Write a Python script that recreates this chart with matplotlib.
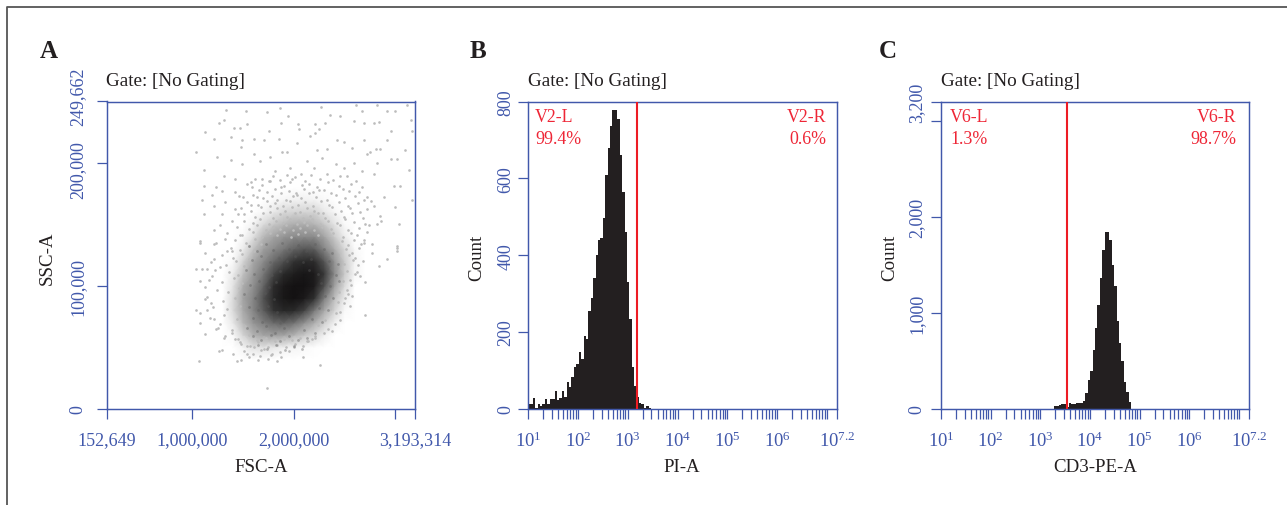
import numpy as np
import matplotlib
matplotlib.use("Agg")
import matplotlib.pyplot as plt
from matplotlib.colors import LinearSegmentedColormap
from matplotlib.lines import Line2D
from matplotlib.ticker import NullFormatter
from matplotlib.transforms import ScaledTranslation

plt.rcParams['font.family'] = ['Liberation Serif', 'DejaVu Serif']
plt.rcParams['mathtext.fontset'] = 'custom'
plt.rcParams['mathtext.rm'] = 'Liberation Serif'
plt.rcParams['mathtext.default'] = 'rm'

W, H = 1287, 506
BLUE = '#4158ab'
RED = '#ee2636'
TXT = '#231f20'

# ---------- Panel A: density (FSC, SSC in thousands) ----------
fsc_grid = [1200, 1300, 1400, 1500, 1600, 1700, 1800, 1900, 2000, 2100, 2200, 2300, 2400, 2500, 2600, 2700, 2800]
ssc_grid = [30, 40, 50, 60, 70, 80, 90, 100, 110, 120, 130, 140, 150, 160, 170, 180, 190]
density = [
    [0, 0, 0, 0, 0, 0, 0, 0, 0, 0, 0, 0, 0, 0, 0, 0, 0],
    [0, 0, 0, 0, 0, 0, 0, 0, 0, 0, 0, 0, 0, 0, 0, 0, 0],
    [0, 0, 0, .05, .12, .12, .10, .06, .05, .03, .01, 0, 0, 0, 0, 0, 0],
    [0, 0, .03, .18, .32, .38, .40, .38, .32, .24, .16, .06, 0, 0, 0, 0, 0],
    [0, 0, .10, .30, .44, .52, .58, .60, .56, .46, .34, .20, .06, 0, 0, 0, 0],
    [0, 0, .16, .36, .50, .62, .74, .82, .80, .70, .54, .36, .18, .03, 0, 0, 0],
    [0, 0, .16, .38, .50, .65, .82, .95, 1.0, .94, .76, .52, .28, .08, 0, 0, 0],
    [0, 0, .12, .34, .46, .60, .78, .94, 1.0, 1.0, .92, .66, .40, .16, 0, 0, 0],
    [0, 0, .08, .26, .42, .54, .68, .80, .90, .96, .92, .72, .48, .22, .04, 0, 0],
    [0, 0, .03, .18, .36, .48, .58, .66, .74, .80, .78, .64, .44, .22, .05, 0, 0],
    [0, 0, 0, .08, .26, .40, .48, .54, .60, .64, .62, .50, .34, .16, .03, 0, 0],
    [0, 0, 0, .03, .14, .30, .38, .44, .48, .48, .48, .38, .22, .08, 0, 0, 0],
    [0, 0, 0, 0, .05, .16, .24, .30, .34, .34, .32, .24, .12, .03, 0, 0, 0],
    [0, 0, 0, 0, 0, .04, .10, .16, .18, .18, .18, .10, .04, 0, 0, 0, 0],
    [0, 0, 0, 0, 0, 0, .02, .04, .05, .06, .05, .03, 0, 0, 0, 0, 0],
    [0, 0, 0, 0, 0, 0, 0, 0, 0, 0, 0, 0, 0, 0, 0, 0, 0],
    [0, 0, 0, 0, 0, 0, 0, 0, 0, 0, 0, 0, 0, 0, 0, 0, 0],
]

# Isolated events outside the dense core, read one by one (thousands)
event_fsc = [
    1332, 1523, 1730, 1861, 2262, 1943, 2613, 2672, 2820, 2919, 3001, 3116, 3149, 1309, 1260, 1128, 1473, 1414, 1539, 1753,
    1868, 2038, 2048, 2206, 2311, 2360, 2459, 2590, 2689, 2787, 2837, 2952, 3165, 1211, 1375, 1490, 1480, 1605, 1703, 1851,
    2032, 2212, 2245, 2163, 2426, 2492, 2574, 2689, 2919, 2853, 2804, 2754, 1030, 1243, 1375, 1490, 1605, 1670, 1769, 1884,
    1933, 1966, 2130, 2229, 2278, 2327, 2410, 2492, 2590, 2722, 2820, 2952, 3017, 3099, 1112, 1309, 1424, 1687, 1818, 1982,
    2065, 2196, 2327, 2459, 2672, 2787, 3132, 1112, 1227, 1293, 1424, 1572, 1588, 1769, 1868, 1096, 1194, 1325, 1457, 1638,
    1835, 2032, 2295, 2722, 2886, 2984, 3050, 3165, 1112, 1211, 1293, 1424, 1572, 1769, 2787, 2853, 3001, 2820, 3034, 1211,
    1276, 1391, 1506, 1079, 1211, 1325, 1473, 2689, 3017, 2771, 3017, 3017, 2919, 2837, 2705, 2705, 1030, 1096, 1145, 1079,
    1128, 1194, 1276, 1211, 1128, 1079, 1227, 1342, 1391, 1178, 1128, 1030, 1079, 1145, 1079, 1211, 1276, 1128, 1227, 1309,
    1391, 1260, 1293, 1401, 1063, 1440, 1539, 1670, 1874, 2088, 2255, 1730, 2212, 2295, 2377, 2459, 2574, 2557, 2623, 2656,
    2771, 2689, 1424, 1473, 1539, 1605, 1703, 1785, 1999, 2130, 2180, 2410, 2492, 2525, 2557,
]
event_ssc = [
    243, 242, 241, 244, 245, 238, 247, 242, 247, 242, 242, 247, 235, 235, 232, 225, 228, 228, 231, 226,
    232, 231, 227, 231, 232, 239, 238, 234, 232, 232, 233, 226, 226, 219, 221, 218, 213, 219, 218, 219,
    216, 224, 227, 222, 218, 217, 212, 218, 218, 211, 211, 209, 209, 205, 202, 199, 207, 201, 205, 209,
    209, 196, 201, 210, 204, 211, 199, 196, 200, 207, 200, 203, 203, 210, 194, 189, 187, 187, 193, 187,
    191, 196, 191, 189, 193, 191, 194, 181, 180, 177, 176, 184, 180, 185, 180, 170, 174, 168, 173, 172,
    170, 174, 178, 172, 172, 181, 181, 170, 158, 165, 158, 162, 166, 165, 165, 157, 164, 150, 150, 145,
    149, 153, 158, 136, 134, 138, 141, 137, 132, 134, 131, 128, 122, 116, 103, 76, 114, 114, 114, 104,
    99, 108, 115, 122, 127, 135, 135, 128, 128, 86, 89, 80, 78, 80, 70, 73, 69, 61, 65, 58,
    62, 47, 48, 45, 39, 39, 45, 43, 42, 42, 36, 17, 59, 62, 63, 72, 92, 84, 111, 108,
    127, 135, 57, 54, 51, 50, 49, 45, 50, 55, 57, 78, 86, 97, 105,
]

# Events in the scattered ring round the core (thousands)
ring_fsc = [
    1620, 1790, 1860, 1930, 2010, 2110, 2170, 2260, 2390, 2520, 2610, 1540, 1690, 1750, 1900, 1960, 2080, 2150, 2230, 2340,
    2440, 2560, 2670, 1660, 1730, 1810, 1950, 2020, 2100, 2190, 2250, 2370, 2480, 2540, 2640, 1500, 1600, 1700, 1780, 1870,
    1920, 1990, 2070, 2150, 2220, 2330, 2410, 2500, 2600, 2690, 1540, 1650, 1730, 1810, 1890, 1960, 2040, 2110, 2190, 2270,
    2350, 2440, 2530, 2630, 2760, 1480, 1580, 1680, 1760, 1830, 1910, 1980, 2060, 2130, 2200, 2290, 2380, 2460, 2550, 2650,
    2720, 1450, 1620, 1700, 1790, 1860, 1930, 2010, 2090, 2160, 2240, 2310, 2400, 2490, 2570, 2680, 1510, 1600, 1670, 1750,
    1820, 1890, 1960, 2030, 2100, 2180, 2260, 2340, 2420, 2500, 2590, 2700, 2860, 1440, 1560, 1640, 1720, 1790, 1860, 1920,
    1990, 2060, 2130, 2200, 2280, 2370, 2450, 2530, 2640, 2740, 1340, 1490, 1600, 1690, 1760, 1830, 1900, 1970, 2040, 2110,
    2240, 2390, 2480, 2560, 2620, 2720, 1420, 1530, 1620, 1680, 2470, 2530, 2590, 2660, 1380, 1470, 1560, 1610, 2510, 2570,
    2640, 1290, 1400, 1490, 1560, 2540, 2600, 2680, 1180, 1330, 1430, 1510, 2490, 2580, 2630, 1220, 1360, 1450, 2520, 2600,
    1160, 1290, 1410, 1490, 2480, 2560, 1240, 1350, 1460, 2440, 2530, 1140, 1300, 1420, 2430, 2500, 1200, 1340, 1470, 2360,
    2450, 1170, 1310, 1440, 2310, 2400, 1250, 1390, 1520, 2240, 2340, 1320, 1450, 1560, 1640, 1720, 1810, 1900, 1980, 2060,
    2140, 2210, 1480, 1570, 1650, 1740, 1830, 1920, 2010, 2090, 1510, 1600, 1680, 1770, 1860, 1950, 1480, 1560, 1650, 1740,
    1830,
]
ring_ssc = [
    187, 189, 186, 190, 188, 185, 190, 187, 186, 189, 185, 183, 182, 185, 181, 184, 182, 183, 180, 184,
    181, 183, 180, 178, 176, 179, 177, 175, 179, 176, 178, 175, 179, 177, 176, 172, 174, 171, 173, 175,
    170, 173, 171, 175, 172, 170, 174, 171, 173, 170, 168, 166, 169, 167, 165, 169, 166, 168, 165, 169,
    166, 168, 165, 167, 169, 163, 161, 164, 160, 163, 161, 164, 160, 163, 161, 159, 164, 161, 163, 160,
    162, 158, 156, 159, 155, 158, 156, 159, 155, 157, 159, 155, 158, 156, 159, 155, 153, 151, 154, 150,
    153, 151, 154, 150, 152, 154, 150, 153, 151, 154, 152, 150, 153, 148, 146, 149, 145, 148, 146, 149,
    145, 147, 149, 145, 148, 146, 149, 145, 147, 149, 143, 141, 144, 140, 143, 141, 144, 140, 142, 144,
    141, 143, 140, 143, 141, 144, 137, 135, 138, 134, 136, 133, 137, 134, 131, 129, 132, 128, 130, 127,
    131, 125, 123, 126, 122, 125, 123, 120, 119, 117, 120, 116, 118, 121, 117, 113, 111, 109, 112, 110,
    105, 103, 106, 102, 104, 101, 97, 95, 98, 95, 93, 91, 88, 90, 87, 90, 83, 81, 84, 81,
    79, 74, 76, 73, 72, 69, 66, 64, 67, 68, 65, 59, 57, 60, 56, 58, 55, 57, 56, 58,
    55, 58, 53, 51, 54, 50, 52, 50, 53, 51, 47, 45, 48, 44, 46, 47, 40, 42, 40, 41,
    39,
]

# Events that stand out over the grey core (thousands)
core_fsc = [
    1560, 1640, 1720, 1790, 1880, 1950, 2040, 2120, 2210, 2300, 2380, 1590, 1680, 1760, 1850, 1930, 2010, 2090, 2170, 2260,
    2350, 2430, 1530, 1610, 1700, 1780, 1860, 2150, 2240, 2330, 2410, 1570, 1660, 1750, 1820, 2270, 2360, 2440, 1510, 1620,
    1710, 1800, 2310, 2390, 1560, 1650, 1740, 1830, 2250, 2340, 1600, 1690, 1770, 1860, 2180, 2280, 1540, 1640, 1720, 1810,
    1900, 2100, 2210, 1600, 1680, 1770, 1860, 1950, 2040, 2130, 1650, 1730, 1820, 1910, 2000, 2080,
]
core_ssc = [
    132, 128, 134, 129, 135, 130, 133, 128, 134, 130, 127, 121, 124, 119, 123, 120, 124, 119, 122, 124,
    120, 118, 113, 110, 114, 109, 112, 113, 110, 114, 109, 101, 104, 99, 103, 102, 100, 104, 93, 90,
    94, 89, 92, 90, 83, 80, 84, 79, 82, 80, 74, 71, 75, 70, 73, 71, 66, 63, 67, 62,
    66, 64, 62, 59, 56, 60, 55, 59, 56, 58, 52, 49, 52, 48, 51, 49,
]

# ---------- Panel B and C: histogram counts for the occupied bins ----------
n_bins = 128
pi_counts = [
    12, 12, 28, 2, 13, 8, 13, 26, 13, 26, 26, 46, 24, 28, 48, 30, 69, 58, 82, 110,
    117, 148, 130, 189, 183, 255, 290, 342, 400, 440, 445, 498, 610, 680, 737, 778, 778, 754, 660, 565,
    461, 330, 235, 108, 60, 30, 15, 13, 2, 9, 3,
]
cd3_first_bin = 47
cd3_counts = [
    28, 35, 42, 49, 49, 17, 62, 55, 49, 66, 59, 66, 85, 170, 300, 400, 610, 840, 1085, 1360,
    1655, 1845, 1845, 1760, 1500, 1280, 920, 690, 500, 280, 173, 69,
]
pi_gate = 1540
cd3_gate = 3440


def px_axes(left, top, right, bottom):
    return fig.add_axes([left / W, 1 - bottom / H, (right - left) / W, (bottom - top) / H])


def style(ax, ypad):
    for s in ax.spines.values():
        s.set_color(BLUE)
        s.set_linewidth(1.05)
    ax.tick_params(which='both', length=7.2, width=0.9, color=BLUE, labelcolor=BLUE, labelsize=13)
    ax.tick_params(axis='x', which='both', pad=8.5)
    ax.tick_params(axis='y', which='both', pad=ypad)
    for lab in ax.get_yticklabels():
        lab.set_rotation(90)
        lab.set_va('center')
    ax.set_facecolor('white')


def page_text(x, y, s, **kw):
    kw.setdefault('color', TXT)
    kw.setdefault('fontsize', 13.6)
    fig.text(x / W, 1 - y / H, s, **kw)


fig = plt.figure(figsize=(W / 100, H / 100), dpi=100, facecolor='white')

# Outer frame
fig.add_artist(Line2D([7 / W, 7 / W, 1], [0, 1 - 8 / H, 1 - 8 / H], color='#555555', lw=1.3, transform=fig.transFigure))

# Panel A
axA = px_axes(106.5, 102.5, 415, 410)
gray = LinearSegmentedColormap.from_list('core', ['#ffffff', '#c4c4c4', '#868686', '#303030', '#141213'])
axA.pcolormesh(fsc_grid, ssc_grid, density, shading='gouraud', cmap=gray, vmin=0, vmax=1, rasterized=True)
axA.scatter(event_fsc, event_ssc, s=3.6, color='#bcbcbc', linewidths=0)
axA.scatter(ring_fsc, ring_ssc, s=3.6, color='#bcbcbc', linewidths=0)
axA.scatter(core_fsc, core_ssc, s=4.0, color='#5a5a5a', alpha=0.4, linewidths=0)
axA.set_xlim(152.649, 3193.314)
axA.set_ylim(0, 249.662)
axA.set_xticks([152.649, 1000, 2000, 3000, 3193.314])
axA.set_xticklabels(['152,649', '1,000,000', '2,000,000', '', '3,193,314'])
axA.set_yticks([0, 100, 200, 249.662])
axA.set_yticklabels(['0', '100,000', '200,000', '249,662'])
style(axA, 7)
labs = axA.get_yticklabels()
labs[2].set_transform(labs[2].get_transform() + ScaledTranslation(0, -6 / 100, fig.dpi_scale_trans))
labs[3].set_transform(labs[3].get_transform() + ScaledTranslation(0, 6 / 100, fig.dpi_scale_trans))


def hist_panel(left, right, counts, first, gate, yticks, ylabels, ymax, lname, lpct, rname, rpct, tl, tr, ypad):
    ax = px_axes(left, 102.5, right, 410)
    edges = 10 ** (1 + 6.2 * np.arange(first, first + len(counts) + 1) / n_bins)
    ax.stairs(counts, edges, fill=True, color='#231f20', linewidth=0)
    ax.axvline(gate, color='#ed1c24', lw=1.5, zorder=4)
    ax.set_xscale('log')
    ax.set_xlim(10, 10 ** 7.2)
    ax.set_ylim(0, ymax)
    major = [10, 1e2, 1e3, 1e4, 1e5, 1e6, 1e7, 10 ** 7.2]
    ax.set_xticks(major)
    ax.set_xticklabels([r'$\mathregular{10^{%s}}$' % e if e else '' for e in ['1', '2', '3', '4', '5', '6', '', '7.2']])
    ax.set_xticks([m * 10 ** e for e in range(1, 7) for m in range(2, 10)], minor=True)
    ax.xaxis.set_minor_formatter(NullFormatter())
    ax.set_yticks(yticks)
    ax.set_yticklabels(ylabels)
    style(ax, ypad)
    ax.tick_params(axis='x', which='major', labelsize=13.4)
    page_text(tl, 118, lname, color=RED, ha='left', va='center', fontsize=12.9)
    page_text(tl, 140, lpct, color=RED, ha='left', va='center', fontsize=12.9)
    page_text(tr, 118, rname, color=RED, ha='right', va='center', fontsize=12.9)
    page_text(tr, 140, rpct, color=RED, ha='right', va='center', fontsize=12.9)
    return ax


hist_panel(528, 837, pi_counts, 0, pi_gate, [0, 200, 400, 600, 800], ['0', '200', '400', '600', '800'], 800,
           'V2-L', '99.4%', 'V2-R', '0.6%', 535, 826, 2.5)
hist_panel(941, 1249, cd3_counts, cd3_first_bin, cd3_gate, [0, 1000, 2000, 3000, 3200],
           ['0', '1,000', '2,000', '', '3,200'], 3200, 'V6-L', '1.3%', 'V6-R', '98.7%', 950, 1236, 4)

# Titles, axis names, panel letters
for x, letter in [(40, 'A'), (470, 'B'), (879, 'C')]:
    page_text(x, 51, letter, fontsize=18, fontweight='bold', ha='left', va='center')
for x in [106, 528, 941]:
    page_text(x, 82, 'Gate: [No Gating]', ha='left', va='center', fontsize=13.8)
for x, s in [(261, 'FSC-A'), (682, 'PI-A'), (1095, 'CD3-PE-A')]:
    page_text(x, 468, s, ha='center', va='center')
for x, s in [(47.5, 'SSC-A'), (477, 'Count'), (890, 'Count')]:
    page_text(x, 258, s, rotation=90, ha='center', va='center')

fig.savefig('out.png', dpi=100, facecolor='white')
